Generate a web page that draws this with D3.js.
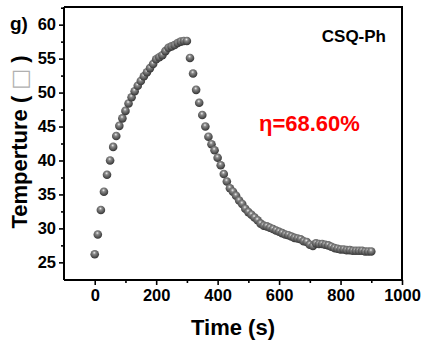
<!DOCTYPE html>
<html>
<head>
<meta charset="utf-8">
<script src="https://cdn.jsdelivr.net/npm/d3@7"></script>
<style>
  body { margin: 0; background: #fff; }
  svg { display: block; font-family: "Liberation Sans", Arial, sans-serif; }
</style>
</head>
<body>
<svg width="422" height="347"></svg>
<script>
// heating phase, every 10 s from 0 to 300
const heatTimes = d3.range(0, 301, 10);
const heatTemps = [26.2, 29.1, 32.7, 35.4, 37.9, 40.0, 42.0, 43.6, 45.1, 46.2,
  47.3, 48.4, 49.3, 50.2, 51.0, 51.7, 52.4, 53.0, 53.6, 54.2,
  54.9, 55.2, 55.5, 56.1, 56.6, 56.8, 57.0, 57.3, 57.5, 57.6, 57.6];

// cooling phase, every 10 s from 310 to 900
const coolTimes = d3.range(310, 901, 10);
const coolTemps = [55.1, 52.8, 50.4, 48.5, 46.7, 45.0, 43.5, 42.4, 41.5, 40.4,
  39.3, 38.0, 36.9, 35.9, 35.4, 34.8, 34.1, 33.6, 32.9, 32.4,
  32.0, 31.6, 31.2, 30.7, 30.4, 30.3, 30.1, 29.9, 29.7, 29.5,
  29.3, 29.1, 29.0, 28.8, 28.6, 28.5, 28.4, 28.1, 28.0, 27.6,
  27.4, 27.8, 27.7, 27.7, 27.6, 27.5, 27.3, 27.1, 27.0, 26.9,
  26.9, 26.8, 26.8, 26.7, 26.7, 26.7, 26.7, 26.6, 26.6, 26.6];

const xTicks = [0, 200, 400, 600, 800, 1000];
const yTicks = [25, 30, 35, 40, 45, 50, 55, 60];

const svg = d3.select("svg");
const mLeft = 64, mRight = 402, mTop = 7, mBottom = 280;

const x = d3.scaleLinear().domain([-100, 1000]).range([mLeft, mRight]);
const y = d3.scaleLinear().domain([22.4, 62.6]).range([mBottom, mTop]);

// 구슬 모양 마커
const grad = svg.append("defs").append("radialGradient")
  .attr("id", "ball")
  .attr("cx", "45%").attr("cy", "38%").attr("r", "60%")
  .attr("fx", "45%").attr("fy", "32%");
grad.append("stop").attr("offset", "0%").attr("stop-color", "#f0f0f0");
grad.append("stop").attr("offset", "30%").attr("stop-color", "#8a8a8a");
grad.append("stop").attr("offset", "100%").attr("stop-color", "#363636");

// frame
svg.append("path")
  .attr("d", `M${mLeft},${mTop}H${mRight}V${mBottom}`)
  .attr("fill", "none")
  .attr("stroke", "#000")
  .attr("stroke-width", 2);

// x axis
const xAxis = svg.append("g")
  .attr("transform", `translate(0,${mBottom})`)
  .call(d3.axisBottom(x).tickValues(xTicks).tickSize(5).tickPadding(4).tickFormat(d3.format("d")));
svg.append("g")
  .attr("transform", `translate(0,${mBottom})`)
  .call(d3.axisBottom(x).tickValues(d3.range(100, 1000, 200)).tickSize(3).tickFormat(""))
  .select(".domain").remove();

// y axis
const yAxis = svg.append("g")
  .attr("transform", `translate(${mLeft},0)`)
  .call(d3.axisLeft(y).tickValues(yTicks).tickSize(5).tickPadding(3));
svg.append("g")
  .attr("transform", `translate(${mLeft},0)`)
  .call(d3.axisLeft(y).tickValues(d3.range(27.5, 62.6, 5)).tickSize(3).tickFormat(""))
  .select(".domain").remove();

xAxis.select(".domain").attr("stroke-width", 2).attr("d", `M${mLeft},0H${mRight}`);
yAxis.select(".domain").attr("stroke-width", 2).attr("d", `M0,${mTop}V${mBottom}`);
svg.selectAll(".tick line").attr("stroke-width", 1.6);
svg.selectAll(".tick text")
  .attr("font-size", 16.5)
  .attr("font-weight", "bold")
  .attr("font-family", "Liberation Sans, Arial, sans-serif")
  .attr("fill", "#000");

// points
const pts = heatTimes.map((t, i) => [t, heatTemps[i]])
  .concat(coolTimes.map((t, i) => [t, coolTemps[i]]));
svg.append("g").selectAll("circle")
  .data(pts)
  .join("circle")
  .attr("cx", d => x(d[0]))
  .attr("cy", d => y(d[1]))
  .attr("r", 4.3)
  .attr("fill", "url(#ball)");

// labels
svg.append("text")
  .attr("x", 233).attr("y", 335)
  .attr("text-anchor", "middle")
  .attr("font-size", 22).attr("font-weight", "bold")
  .text("Time (s)");

const yl = svg.append("text")
  .attr("transform", "translate(27,142) rotate(-90)")
  .attr("text-anchor", "middle")
  .attr("font-size", 22).attr("font-weight", "bold");
yl.append("tspan").text("Temperture ( ");
yl.append("tspan").attr("font-weight", "normal").attr("fill", "#b0b0b0").attr("font-family", "DejaVu Sans").text("□");
yl.append("tspan").text(" )");

svg.append("text")
  .attr("x", 10).attr("y", 30)
  .attr("font-size", 19).attr("font-weight", "bold")
  .text("g)");

svg.append("text")
  .attr("x", 386).attr("y", 42)
  .attr("text-anchor", "end")
  .attr("font-size", 17).attr("font-weight", "bold")
  .text("CSQ-Ph");

svg.append("text")
  .attr("x", 259).attr("y", 131)
  .attr("font-size", 22).attr("font-weight", "bold")
  .attr("fill", "#ff0000")
  .text("η=68.60%");
</script>
</body>
</html>
